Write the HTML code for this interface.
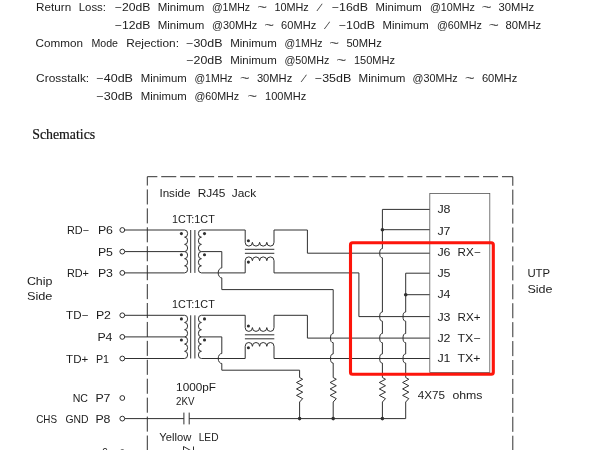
<!DOCTYPE html>
<html lang="en"><head><meta charset="utf-8"><title>Schematics</title>
<style>
html,body{margin:0;padding:0;background:#fff;}
body{width:600px;height:450px;overflow:hidden;}
svg{display:block;filter:blur(0.5px);}
svg path,svg circle,svg rect{fill:none;stroke:#303030;stroke-width:1.0;}
svg circle.d{fill:#303030;stroke:none;}
text{fill:#1c1c1c;stroke:none;}
.t{font-family:"Liberation Sans",sans-serif;font-size:10.2px;}
.c{font-family:"Liberation Sans",sans-serif;font-size:10.3px;}
.s{font-family:"Liberation Serif",serif;font-size:13.8px;fill:#151515;stroke:#151515;stroke-width:0.2px;}
</style></head><body>
<svg width="600" height="450" viewBox="0 0 600 450">
<rect x="0" y="0" width="600" height="450" style="fill:#fff;stroke:none"/>
<text class="t" x="36.1" y="10.5" textLength="35.1" lengthAdjust="spacingAndGlyphs">Return</text>
<text class="t" x="78.7" y="10.5" textLength="27.3" lengthAdjust="spacingAndGlyphs">Loss:</text>
<text class="t" x="114.9" y="10.5" textLength="35.6" lengthAdjust="spacingAndGlyphs">−20dB</text>
<text class="t" x="157.7" y="10.5" textLength="46.6" lengthAdjust="spacingAndGlyphs">Minimum</text>
<text class="t" x="211.9" y="10.5" textLength="38.1" lengthAdjust="spacingAndGlyphs">@1MHz</text>
<text class="t" x="257.2" y="10.5" textLength="9.8" lengthAdjust="spacingAndGlyphs">~</text>
<text class="t" x="274.4" y="10.5" textLength="34.4" lengthAdjust="spacingAndGlyphs">10MHz</text>
<text class="t" transform="translate(318.0 10.5) skewX(-24)" text-anchor="middle">/</text>
<text class="t" x="331.9" y="10.5" textLength="36.1" lengthAdjust="spacingAndGlyphs">−16dB</text>
<text class="t" x="375.6" y="10.5" textLength="46.1" lengthAdjust="spacingAndGlyphs">Minimum</text>
<text class="t" x="429.9" y="10.5" textLength="44.9" lengthAdjust="spacingAndGlyphs">@10MHz</text>
<text class="t" x="481.7" y="10.5" textLength="9.8" lengthAdjust="spacingAndGlyphs">~</text>
<text class="t" x="498.6" y="10.5" textLength="35.6" lengthAdjust="spacingAndGlyphs">30MHz</text>
<text class="t" x="114.9" y="28.8" textLength="35.6" lengthAdjust="spacingAndGlyphs">−12dB</text>
<text class="t" x="157.7" y="28.8" textLength="46.6" lengthAdjust="spacingAndGlyphs">Minimum</text>
<text class="t" x="211.9" y="28.8" textLength="45.3" lengthAdjust="spacingAndGlyphs">@30MHz</text>
<text class="t" x="264.2" y="28.8" textLength="9.8" lengthAdjust="spacingAndGlyphs">~</text>
<text class="t" x="281.1" y="28.8" textLength="35.1" lengthAdjust="spacingAndGlyphs">60MHz</text>
<text class="t" transform="translate(325.3 28.8) skewX(-24)" text-anchor="middle">/</text>
<text class="t" x="338.9" y="28.8" textLength="36.1" lengthAdjust="spacingAndGlyphs">−10dB</text>
<text class="t" x="382.6" y="28.8" textLength="46.1" lengthAdjust="spacingAndGlyphs">Minimum</text>
<text class="t" x="436.9" y="28.8" textLength="44.9" lengthAdjust="spacingAndGlyphs">@60MHz</text>
<text class="t" x="488.7" y="28.8" textLength="10.1" lengthAdjust="spacingAndGlyphs">~</text>
<text class="t" x="505.6" y="28.8" textLength="35.6" lengthAdjust="spacingAndGlyphs">80MHz</text>
<text class="t" x="35.6" y="46.8" textLength="47.4" lengthAdjust="spacingAndGlyphs">Common</text>
<text class="t" x="91.4" y="46.8" textLength="26.6" lengthAdjust="spacingAndGlyphs">Mode</text>
<text class="t" x="126.2" y="46.8" textLength="52.8" lengthAdjust="spacingAndGlyphs">Rejection:</text>
<text class="t" x="186.2" y="46.8" textLength="36.3" lengthAdjust="spacingAndGlyphs">−30dB</text>
<text class="t" x="230.2" y="46.8" textLength="46.6" lengthAdjust="spacingAndGlyphs">Minimum</text>
<text class="t" x="284.4" y="46.8" textLength="38.1" lengthAdjust="spacingAndGlyphs">@1MHz</text>
<text class="t" x="329.2" y="46.8" textLength="9.8" lengthAdjust="spacingAndGlyphs">~</text>
<text class="t" x="346.4" y="46.8" textLength="35.4" lengthAdjust="spacingAndGlyphs">50MHz</text>
<text class="t" x="186.4" y="64.0" textLength="36.1" lengthAdjust="spacingAndGlyphs">−20dB</text>
<text class="t" x="230.2" y="64.0" textLength="46.6" lengthAdjust="spacingAndGlyphs">Minimum</text>
<text class="t" x="284.4" y="64.0" textLength="44.9" lengthAdjust="spacingAndGlyphs">@50MHz</text>
<text class="t" x="336.2" y="64.0" textLength="10.1" lengthAdjust="spacingAndGlyphs">~</text>
<text class="t" x="353.9" y="64.0" textLength="41.1" lengthAdjust="spacingAndGlyphs">150MHz</text>
<text class="t" x="36.1" y="82.0" textLength="53.1" lengthAdjust="spacingAndGlyphs">Crosstalk:</text>
<text class="t" x="96.4" y="82.0" textLength="36.6" lengthAdjust="spacingAndGlyphs">−40dB</text>
<text class="t" x="140.7" y="82.0" textLength="46.1" lengthAdjust="spacingAndGlyphs">Minimum</text>
<text class="t" x="194.4" y="82.0" textLength="38.1" lengthAdjust="spacingAndGlyphs">@1MHz</text>
<text class="t" x="239.9" y="82.0" textLength="9.6" lengthAdjust="spacingAndGlyphs">~</text>
<text class="t" x="256.9" y="82.0" textLength="35.4" lengthAdjust="spacingAndGlyphs">30MHz</text>
<text class="t" transform="translate(302.1 82.0) skewX(-24)" text-anchor="middle">/</text>
<text class="t" x="314.9" y="82.0" textLength="36.4" lengthAdjust="spacingAndGlyphs">−35dB</text>
<text class="t" x="358.6" y="82.0" textLength="46.9" lengthAdjust="spacingAndGlyphs">Minimum</text>
<text class="t" x="412.6" y="82.0" textLength="45.1" lengthAdjust="spacingAndGlyphs">@30MHz</text>
<text class="t" x="464.9" y="82.0" textLength="9.6" lengthAdjust="spacingAndGlyphs">~</text>
<text class="t" x="481.9" y="82.0" textLength="35.4" lengthAdjust="spacingAndGlyphs">60MHz</text>
<text class="t" x="96.4" y="99.8" textLength="36.6" lengthAdjust="spacingAndGlyphs">−30dB</text>
<text class="t" x="140.7" y="99.8" textLength="46.1" lengthAdjust="spacingAndGlyphs">Minimum</text>
<text class="t" x="194.4" y="99.8" textLength="44.8" lengthAdjust="spacingAndGlyphs">@60MHz</text>
<text class="t" x="247.4" y="99.8" textLength="9.6" lengthAdjust="spacingAndGlyphs">~</text>
<text class="t" x="265.1" y="99.8" textLength="41.1" lengthAdjust="spacingAndGlyphs">100MHz</text>
<text class="s" x="32.2" y="139.3" textLength="63.0" lengthAdjust="spacingAndGlyphs">Schematics</text>
<path d="M147.3 176.7H512.8" stroke-dasharray="15.05 3.88" stroke-dashoffset="5.0"/>
<path d="M147.3 176.7V452" stroke-dasharray="15.05 3.88" stroke-dashoffset="6.2"/>
<path d="M512.8 176.7V452" stroke-dasharray="15.05 3.88" stroke-dashoffset="6.0"/>
<circle cx="122.3" cy="230.0" r="2.4"/>
<text class="c" x="66.9" y="234.1" textLength="22.1" lengthAdjust="spacingAndGlyphs">RD−</text>
<text class="c" x="97.9" y="234.1" textLength="15.1" lengthAdjust="spacingAndGlyphs">P6</text>
<circle cx="122.3" cy="251.6" r="2.4"/>
<text class="c" x="97.9" y="255.7" textLength="15.1" lengthAdjust="spacingAndGlyphs">P5</text>
<circle cx="122.3" cy="272.9" r="2.4"/>
<text class="c" x="66.9" y="277.0" textLength="22.1" lengthAdjust="spacingAndGlyphs">RD+</text>
<text class="c" x="97.9" y="277.0" textLength="15.1" lengthAdjust="spacingAndGlyphs">P3</text>
<circle cx="122.3" cy="315.3" r="2.4"/>
<text class="c" x="66.1" y="319.4" textLength="22.1" lengthAdjust="spacingAndGlyphs">TD−</text>
<text class="c" x="95.9" y="319.4" textLength="15.1" lengthAdjust="spacingAndGlyphs">P2</text>
<circle cx="122.3" cy="336.9" r="2.4"/>
<text class="c" x="97.4" y="341.0" textLength="15.1" lengthAdjust="spacingAndGlyphs">P4</text>
<circle cx="122.3" cy="358.5" r="2.4"/>
<text class="c" x="66.1" y="362.6" textLength="22.1" lengthAdjust="spacingAndGlyphs">TD+</text>
<text class="c" x="95.9" y="362.6" textLength="13.1" lengthAdjust="spacingAndGlyphs">P1</text>
<circle cx="122.3" cy="398.0" r="2.4"/>
<text class="c" x="72.7" y="402.1" textLength="15.3" lengthAdjust="spacingAndGlyphs">NC</text>
<text class="c" x="95.4" y="402.1" textLength="15.1" lengthAdjust="spacingAndGlyphs">P7</text>
<circle cx="122.3" cy="418.6" r="2.4"/>
<text class="c" x="65.4" y="422.7" textLength="23.1" lengthAdjust="spacingAndGlyphs">GND</text>
<text class="c" x="95.4" y="422.7" textLength="15.1" lengthAdjust="spacingAndGlyphs">P8</text>
<text class="c" x="36.2" y="422.7" textLength="20.8" lengthAdjust="spacingAndGlyphs">CHS</text>
<text class="c" x="26.9" y="285.3" textLength="25.6" lengthAdjust="spacingAndGlyphs">Chip</text>
<text class="c" x="26.9" y="300.3" textLength="25.6" lengthAdjust="spacingAndGlyphs">Side</text>
<text class="c" x="527.4" y="276.6" textLength="22.7" lengthAdjust="spacingAndGlyphs">UTP</text>
<text class="c" x="527.4" y="293.1" textLength="25.1" lengthAdjust="spacingAndGlyphs">Side</text>
<text class="c" x="159.4" y="196.7" textLength="31.1" lengthAdjust="spacingAndGlyphs">Inside</text>
<text class="c" x="197.7" y="196.7" textLength="27.8" lengthAdjust="spacingAndGlyphs">RJ45</text>
<text class="c" x="231.7" y="196.7" textLength="24.5" lengthAdjust="spacingAndGlyphs">Jack</text>
<text class="c" x="172.1" y="223.4" textLength="42.7" lengthAdjust="spacingAndGlyphs">1CT:1CT</text>
<text class="c" x="172.1" y="307.8" textLength="42.7" lengthAdjust="spacingAndGlyphs">1CT:1CT</text>
<text class="c" x="176.1" y="390.7" textLength="39.9" lengthAdjust="spacingAndGlyphs">1000pF</text>
<text class="c" x="176.1" y="404.6" textLength="18.4" lengthAdjust="spacingAndGlyphs">2KV</text>
<text class="c" x="159.3" y="440.5" textLength="32.0" lengthAdjust="spacingAndGlyphs">Yellow</text>
<text class="c" x="198.7" y="440.5" textLength="19.8" lengthAdjust="spacingAndGlyphs">LED</text>
<text class="c" x="417.7" y="399.0" textLength="27.3" lengthAdjust="spacingAndGlyphs">4X75</text>
<text class="c" x="452.4" y="399.0" textLength="30.1" lengthAdjust="spacingAndGlyphs">ohms</text>
<path d="M124.7 230.0L184.6 230.0" />
<path d="M124.7 251.6L184.6 251.6" />
<path d="M124.7 272.9L184.6 272.9" />
<path d="M184.60 230.00A3.00 3.60 0 0 1 184.60 237.20A3.00 3.60 0 0 1 184.60 244.40A3.00 3.60 0 0 1 184.60 251.60A3.00 3.55 0 0 1 184.60 258.70A3.00 3.55 0 0 1 184.60 265.80A3.00 3.55 0 0 1 184.60 272.90" />
<path d="M190.7 230.0L190.7 272.9" />
<path d="M194.9 230.0L194.9 272.9" />
<path d="M201.40 230.00A3.00 3.60 0 0 0 201.40 237.20A3.00 3.60 0 0 0 201.40 244.40A3.00 3.60 0 0 0 201.40 251.60A3.00 3.55 0 0 0 201.40 258.70A3.00 3.55 0 0 0 201.40 265.80A3.00 3.55 0 0 0 201.40 272.90" />
<circle class="d" cx="181.4" cy="233.6" r="1.55"/>
<circle class="d" cx="181.4" cy="254.7" r="1.55"/>
<circle class="d" cx="204.5" cy="233.6" r="1.55"/>
<circle class="d" cx="204.5" cy="254.7" r="1.55"/>
<path d="M201.4 230.0H245.2V242.3" />
<path d="M245.20 242.30A3.60 3.80 0 0 0 252.40 242.30A3.60 3.80 0 0 0 259.60 242.30A3.60 3.80 0 0 0 266.80 242.30A3.60 3.80 0 0 0 274.00 242.30" />
<path d="M245.20 260.70A3.60 3.80 0 0 1 252.40 260.70A3.60 3.80 0 0 1 259.60 260.70A3.60 3.80 0 0 1 266.80 260.70A3.60 3.80 0 0 1 274.00 260.70" />
<path d="M244.9 249.3L274.3 249.3" />
<path d="M244.9 253.3L274.3 253.3" />
<circle class="d" cx="248.4" cy="240.7" r="1.55"/>
<circle class="d" cx="248.4" cy="262.1" r="1.55"/>
<path d="M201.4 272.9H245.2V260.7" />
<path d="M274.0 242.3V230.0H307.4V253.2H429.8" />
<path d="M274.0 260.7V272.9H358.9V316.6H429.8" />
<path d="M201.4 251.6H221.8V267.90A3.6 5.0 0 0 0 221.80 277.90V289.6H333.2V333.50A2.7 4.6 0 0 0 333.20 342.70V353.90A2.7 4.6 0 0 0 333.20 363.10V377.5" />
<path d="M124.7 315.3L184.6 315.3" />
<path d="M124.7 336.9L184.6 336.9" />
<path d="M124.7 358.5L184.6 358.5" />
<path d="M184.60 315.30A3.00 3.60 0 0 1 184.60 322.50A3.00 3.60 0 0 1 184.60 329.70A3.00 3.60 0 0 1 184.60 336.90A3.00 3.60 0 0 1 184.60 344.10A3.00 3.60 0 0 1 184.60 351.30A3.00 3.60 0 0 1 184.60 358.50" />
<path d="M190.7 315.3L190.7 358.5" />
<path d="M194.9 315.3L194.9 358.5" />
<path d="M201.40 315.30A3.00 3.60 0 0 0 201.40 322.50A3.00 3.60 0 0 0 201.40 329.70A3.00 3.60 0 0 0 201.40 336.90A3.00 3.60 0 0 0 201.40 344.10A3.00 3.60 0 0 0 201.40 351.30A3.00 3.60 0 0 0 201.40 358.50" />
<circle class="d" cx="181.4" cy="318.9" r="1.55"/>
<circle class="d" cx="181.4" cy="340.0" r="1.55"/>
<circle class="d" cx="204.5" cy="318.9" r="1.55"/>
<circle class="d" cx="204.5" cy="340.0" r="1.55"/>
<path d="M201.4 315.3H245.2V327.6" />
<path d="M245.20 327.60A3.60 3.80 0 0 0 252.40 327.60A3.60 3.80 0 0 0 259.60 327.60A3.60 3.80 0 0 0 266.80 327.60A3.60 3.80 0 0 0 274.00 327.60" />
<path d="M245.20 346.30A3.60 3.80 0 0 1 252.40 346.30A3.60 3.80 0 0 1 259.60 346.30A3.60 3.80 0 0 1 266.80 346.30A3.60 3.80 0 0 1 274.00 346.30" />
<path d="M244.9 334.8L274.3 334.8" />
<path d="M244.9 338.8L274.3 338.8" />
<circle class="d" cx="248.4" cy="326.0" r="1.55"/>
<circle class="d" cx="248.4" cy="347.7" r="1.55"/>
<path d="M201.4 358.5H245.2V346.3" />
<path d="M274.0 327.6V315.3H307.4V338.1H429.8" />
<path d="M274.0 346.3V358.5H429.8" />
<path d="M201.4 336.9H221.8V353.50A3.6 5.0 0 0 0 221.80 363.50V370.2H299.6V377.5" />
<path d="M299.6 377.5L302.7 379.27L296.5 382.50L302.7 385.72L296.5 388.94L302.7 392.17L296.5 395.39L302.7 398.62L299.6 402.0V418.6"  stroke-linejoin="miter"/>
<path d="M333.2 377.5L336.3 379.27L330.1 382.50L336.3 385.72L330.1 388.94L336.3 392.17L330.1 395.39L336.3 398.62L333.2 402.0V418.6"  stroke-linejoin="miter"/>
<path d="M382.4 377.5L385.5 379.27L379.3 382.50L385.5 385.72L379.3 388.94L385.5 392.17L379.3 395.39L385.5 398.62L382.4 402.0V418.6"  stroke-linejoin="miter"/>
<path d="M405.7 377.5L408.8 379.27L402.6 382.50L408.8 385.72L402.6 388.94L408.8 392.17L402.6 395.39L408.8 398.62L405.7 402.0V418.6"  stroke-linejoin="miter"/>
<path d="M124.7 418.6L183.9 418.6" />
<path d="M189.2 418.6L405.7 418.6" />
<path d="M183.9 412.6L183.9 424.4" />
<path d="M189.2 412.6L189.2 424.4" />
<circle class="d" cx="299.6" cy="418.6" r="1.8"/>
<circle class="d" cx="333.2" cy="418.6" r="1.8"/>
<circle class="d" cx="382.4" cy="418.6" r="1.8"/>
<path d="M429.8 209.4H382.4V248.60A2.7 4.6 0 0 0 382.40 257.80V312.00A2.7 4.6 0 0 0 382.40 321.20V333.50A2.7 4.6 0 0 0 382.40 342.70V353.90A2.7 4.6 0 0 0 382.40 363.10V377.5" />
<path d="M382.4 229.7L429.8 229.7" />
<circle class="d" cx="382.4" cy="229.7" r="1.8"/>
<path d="M429.8 273.2H405.7V312.00A2.7 4.6 0 0 0 405.70 321.20V333.50A2.7 4.6 0 0 0 405.70 342.70V353.90A2.7 4.6 0 0 0 405.70 363.10V377.5" />
<path d="M405.7 294.7L429.8 294.7" />
<circle class="d" cx="405.7" cy="294.7" r="1.8"/>
<rect x="429.8" y="193.5" width="60.0" height="178.9" style="stroke:#555;stroke-width:0.8"/>
<text class="c" x="437.4" y="213.2" textLength="13.1" lengthAdjust="spacingAndGlyphs">J8</text>
<text class="c" x="437.4" y="234.6" textLength="13.1" lengthAdjust="spacingAndGlyphs">J7</text>
<text class="c" x="437.4" y="255.9" textLength="13.1" lengthAdjust="spacingAndGlyphs">J6</text>
<text class="c" x="437.4" y="276.8" textLength="13.1" lengthAdjust="spacingAndGlyphs">J5</text>
<text class="c" x="437.4" y="297.9" textLength="13.1" lengthAdjust="spacingAndGlyphs">J4</text>
<text class="c" x="437.4" y="320.6" textLength="13.1" lengthAdjust="spacingAndGlyphs">J3</text>
<text class="c" x="437.4" y="342.2" textLength="13.1" lengthAdjust="spacingAndGlyphs">J2</text>
<text class="c" x="437.4" y="362.4" textLength="13.1" lengthAdjust="spacingAndGlyphs">J1</text>
<text class="c" x="457.5" y="255.9" textLength="23.0" lengthAdjust="spacingAndGlyphs">RX−</text>
<text class="c" x="457.5" y="320.6" textLength="23.0" lengthAdjust="spacingAndGlyphs">RX+</text>
<text class="c" x="457.5" y="342.2" textLength="23.0" lengthAdjust="spacingAndGlyphs">TX−</text>
<text class="c" x="457.5" y="362.4" textLength="23.0" lengthAdjust="spacingAndGlyphs">TX+</text>
<circle cx="122.3" cy="452.1" r="2.4"/>
<path d="M183.5 453V446.5L193 451.8" />
<path d="M193.5 446.5L193.5 453.0" />
<text class="c" x="105" y="455.8" text-anchor="middle">9</text>
<rect x="350.5" y="242.7" width="142.8" height="131.5" rx="2" ry="2" style="fill:none;stroke:#fd150b;stroke-width:3.1"/>
</svg>
</body></html>
